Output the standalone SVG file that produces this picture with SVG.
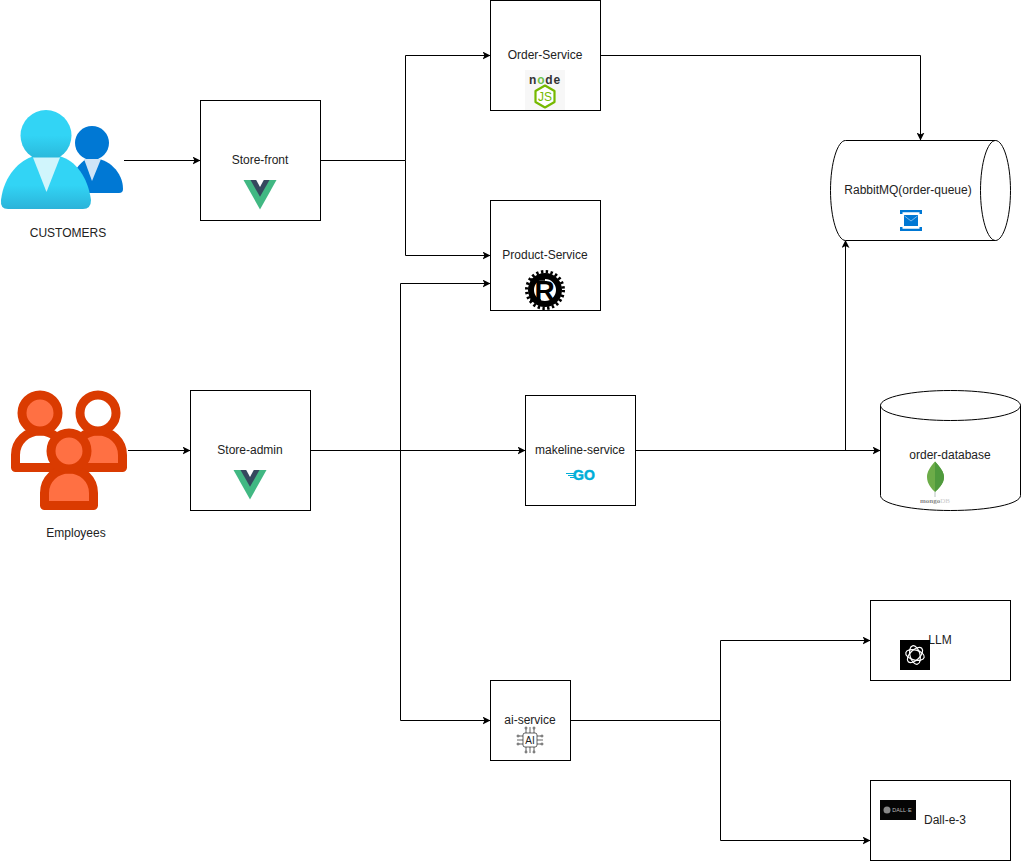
<svg xmlns="http://www.w3.org/2000/svg" width="1021" height="861" viewBox="0 0 1021 861">
<defs>
<marker id="arrow" viewBox="0 0 8 8" refX="7.5" refY="4" markerWidth="8" markerHeight="8" markerUnits="userSpaceOnUse" orient="auto"><path d="M0 0 L8 4 L0 8 L2 4 Z" fill="#000"/></marker>
<linearGradient id="front" x1="0" y1="0" x2="0" y2="1"><stop offset="0.55" stop-color="#32D4F5"/><stop offset="1" stop-color="#2BB3D9"/></linearGradient>
<linearGradient id="front2" x1="0" y1="0" x2="0" y2="1"><stop offset="0.5" stop-color="#32D4F5"/><stop offset="1" stop-color="#29B5D8"/></linearGradient>
<g id="vue"><path d="M-16.500 0 H16.500 L0 29.500 Z" fill="#41B883"/><path d="M-9.500 0 H9.500 L0 16.800 Z" fill="#35495E"/><path d="M-3.800 0 H3.800 L0 7 Z" fill="#fff"/></g>
</defs>
<style>
.box{fill:#fff;stroke:#000;stroke-width:1}
.shape{fill:#fff;stroke:#000;stroke-width:1}
.line{fill:none;stroke:#000;stroke-width:1}
.arrow{marker-end:url(#arrow)}
text{font-family:"Liberation Sans",Arial,Helvetica,sans-serif;font-size:12px;fill:#222;text-anchor:middle}
.emp{stroke:#DA3B01;stroke-width:9;stroke-linejoin:round}
</style>
<rect width="1021" height="861" fill="#fff"/>
<g id="connectors">
<path class="line arrow" d="M124 160.500 H200"/>
<path class="line arrow" d="M320.500 160.500 H405.500 V55.500 H490"/>
<path class="line arrow" d="M405.500 160.500 V255.500 H490"/>
<path class="line arrow" d="M600.500 55.500 H920.500 V140"/>
<path class="line arrow" d="M128 450.500 H190"/>
<path class="line arrow" d="M310.500 450.500 H525"/>
<path class="line arrow" d="M400.500 450.500 V283.500 H490"/>
<path class="line arrow" d="M400.500 450.500 V720.500 H490"/>
<path class="line arrow" d="M635.500 450.500 H880"/>
<path class="line arrow" d="M845.500 450.500 V240.500"/>
<path class="line arrow" d="M570.500 720.500 H720.500 V640.500 H870"/>
<path class="line arrow" d="M720.500 720.500 V840.500 H870"/>
</g>
<g id="customers">
<circle cx="92" cy="143" r="17" fill="#0078D4"/>
<path d="M72 176 C78 165 84 158 92 158 C108 158 123 172 123 189 Q123 193 119 193 H72 Z" fill="#0078D4"/>
<path d="M84 159 H101 L92 181 Z" fill="#CFE4F7"/>
<path d="M1 200 C4 175 20 160 34 156 H59 C76 160 88 178 91 200 Q91 209 83 209 H8 Q0 209 1 200 Z" fill="url(#front)"/>
<circle cx="46" cy="135.500" r="25.500" fill="url(#front2)"/>
<path d="M33 157.500 H60 L46.500 192 Z" fill="#D0F5FC"/>
<text x="68" y="237">CUSTOMERS</text>
</g>
<g id="employees">
<path class="emp" d="M15.500 467.500 V455 C15.500 441 27 431 40 431 C53 431 64.500 441 64.500 455 V467.500 Z" fill="#fff"/>
<circle class="emp" cx="40" cy="413" r="18" fill="#FF7043"/>
<path class="emp" d="M73.500 467.500 V455 C73.500 441 85 431 98 431 C111 431 122.500 441 122.500 455 V467.500 Z" fill="#FF7043"/>
<circle class="emp" cx="98" cy="413" r="18" fill="#fff"/>
<path class="emp" d="M44.500 505.500 V493 C44.500 479 56 469 69 469 C82 469 93.500 479 93.500 493 V505.500 Z" fill="#FF7043"/>
<circle class="emp" cx="69" cy="451" r="18" fill="#FF7043"/>
<text x="76" y="537">Employees</text>
</g>
<g id="store-front">
<rect class="box" x="200.500" y="100.500" width="120" height="120"/>
<text x="260" y="164">Store-front</text>
<use href="#vue" x="260" y="180"/>
</g>
<g id="store-admin">
<rect class="box" x="190.500" y="390.500" width="120" height="120"/>
<text x="250" y="454">Store-admin</text>
<use href="#vue" x="250" y="470"/>
</g>
<g id="order-service">
<rect class="box" x="490.500" y="0.500" width="110" height="110"/>
<text x="545" y="59">Order-Service</text>
<rect x="525" y="70" width="40" height="40" fill="#F7F7F7"/>
<text x="545" y="84" style="font-size:12px;font-weight:bold;letter-spacing:0.800px;fill:#333"><tspan>n</tspan><tspan fill="#6CC24A">o</tspan><tspan>de</tspan></text>
<path d="M545 85.500 L554.500 91 V102 L545 107.500 L535.500 102 V91 Z" fill="#fff" stroke="#76B900" stroke-width="2.200" stroke-linejoin="round"/>
<text x="545" y="101" style="font-size:12px;fill:#76B900">JS</text>
</g>
<g id="product-service">
<rect class="box" x="490.500" y="200.500" width="110" height="110"/>
<text x="545" y="259">Product-Service</text>
<circle cx="545" cy="290" r="18.300" fill="none" stroke="#000" stroke-width="3.400" stroke-dasharray="2.400 2.400"/>
<circle cx="545" cy="290" r="14" fill="#fff" stroke="#000" stroke-width="6"/>
<text x="544.500" y="300" style="font-size:28px;font-weight:bold;fill:#000">R</text>
<path d="M531 279.500 H545 M530 300.500 H541" stroke="#000" stroke-width="2.500"/>
</g>
<g id="makeline-service">
<rect class="box" x="525.500" y="395.500" width="110" height="110"/>
<text x="580" y="454">makeline-service</text>
<path d="M566 473.500 H574 M568 475.500 H574 M570 477.500 H574" stroke="#00ADD8" stroke-width="1"/>
<text x="584" y="480" style="font-size:14px;font-weight:bold;fill:#00ADD8;stroke:#00ADD8;stroke-width:0.500">GO</text>
</g>
<g id="ai-service">
<rect class="box" x="490.500" y="680.500" width="80" height="80"/>
<text x="530" y="724">ai-service</text>
<g fill="none" stroke="#222" stroke-width="0.700">
<rect x="523" y="733" width="14" height="14" rx="2"/>
<path d="M526 733 V729 M530 733 V727 M534 733 V729 M526 747 V751 M530 747 V753 M534 747 V751 M523 736 H519 M523 740 H517 M523 744 H519 M537 736 H541 M537 740 H543 M537 744 H541"/>
<circle cx="526" cy="728" r="1"/><circle cx="534" cy="728" r="1"/><circle cx="526" cy="752" r="1"/><circle cx="534" cy="752" r="1"/>
<circle cx="518" cy="736" r="1"/><circle cx="518" cy="744" r="1"/><circle cx="542" cy="736" r="1"/><circle cx="542" cy="744" r="1"/>
</g>
<text x="530" y="744" style="font-size:10px;fill:#222">AI</text>
</g>
<g id="rabbitmq">
<path class="shape" d="M845.500 140.500 H995.500 C1003.500 140.500 1010.500 163 1010.500 190.500 C1010.500 218 1003.500 240.500 995.500 240.500 H845.500 C837.500 240.500 830.500 218 830.500 190.500 C830.500 163 837.500 140.500 845.500 140.500 Z"/>
<path class="line" d="M995.500 140.500 C987.500 140.500 980.500 163 980.500 190.500 C980.500 218 987.500 240.500 995.500 240.500"/>
<text x="908" y="194">RabbitMQ(order-queue)</text>
<path d="M900 214 V210 H922 V214 H919.500 V212.300 H902.500 V214 Z M900 227 V231 H922 V227 H919.500 V228.700 H902.500 V227 Z" fill="#0078D4"/>
<rect x="904" y="215" width="14" height="11" fill="#0078D4"/>
<path d="M904.500 216 L911 221 L917.500 216" fill="none" stroke="#9CC8EE" stroke-width="0.800"/>
</g>
<g id="order-database">
<path class="shape" d="M880.500 405.500 C880.500 397 912 390.500 950.500 390.500 C989 390.500 1020.500 397 1020.500 405.500 V495.500 C1020.500 504 989 510.500 950.500 510.500 C912 510.500 880.500 504 880.500 495.500 Z"/>
<path class="line" d="M880.500 405.500 C880.500 414 912 420.500 950.500 420.500 C989 420.500 1020.500 414 1020.500 405.500"/>
<text x="950" y="459">order-database</text>
<path d="M935 461.500 C930 467 927 472 927 477 C927 484 932 489 935 492 C938 489 944 484 944 477 C944 472 940 467 935 461.500 Z" fill="#6CAC48"/>
<path d="M935 461.500 C940 467 944 472 944 477 C944 484 938 489 935 492 Z" fill="#4F9A3D"/>
<path d="M935 492 V497" stroke="#B8C4C2" stroke-width="1"/>
<text x="935" y="503" style="font-size:7px;font-weight:bold;font-family:'Liberation Serif',serif;fill:#8a8a8a">mongo<tspan fill="#ccc" font-weight="normal">DB</tspan></text>
</g>
<g id="llm">
<rect class="box" x="870.500" y="600.500" width="140" height="80"/>
<text x="940" y="644">LLM</text>
<rect x="900" y="640" width="30" height="30" fill="#000"/>
<g fill="none" stroke="#fff" stroke-width="1.200">
<ellipse cx="915" cy="655" rx="9.500" ry="5" transform="rotate(15 915 655)"/>
<ellipse cx="915" cy="655" rx="9.500" ry="5" transform="rotate(75 915 655)"/>
<ellipse cx="915" cy="655" rx="9.500" ry="5" transform="rotate(135 915 655)"/>
</g>
</g>
<g id="dall-e-3">
<rect class="box" x="870.500" y="780.500" width="140" height="80"/>
<text x="945" y="824">Dall-e-3</text>
<rect x="880" y="800" width="36" height="20" fill="#050505"/>
<circle cx="887" cy="810" r="3.500" fill="#888"/>
<text x="902" y="812" style="font-size:5.500px;fill:#bbb">DALL·E</text>
</g>
</svg>
